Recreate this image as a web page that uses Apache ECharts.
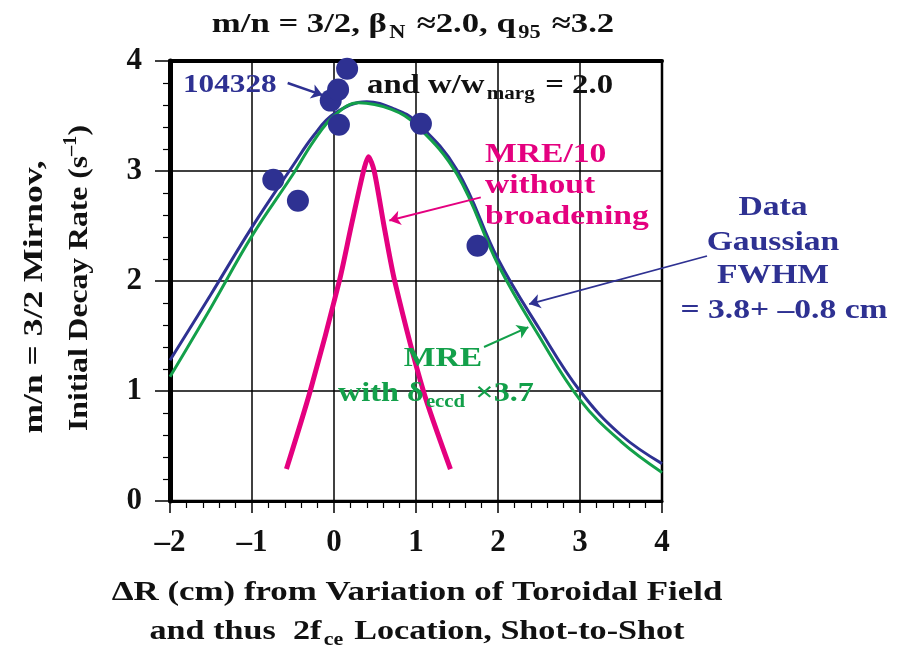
<!DOCTYPE html>
<html>
<head>
<meta charset="utf-8">
<script src="https://cdn.jsdelivr.net/npm/echarts@6/dist/echarts.min.js"></script>
<style>html,body{margin:0;padding:0;background:#fff;}#c{width:904px;height:645px;}</style>
</head>
<body>
<div id="c"></div>
<script>
// ---- data ----
const xTicks = [-2, -1, 0, 1, 2, 3, 4];
const xTickLabels = ['–2', '–1', '0', '1', '2', '3', '4'];
const yTicks = [0, 1, 2, 3, 4];
const yTickLabels = ['0', '1', '2', '3', '4'];

const dotX = [-0.74, -0.44, -0.04, 0.05, 0.16, 0.06, 1.06, 1.75, 4.06];
const dotY = [2.92, 2.73, 3.64, 3.74, 3.93, 3.42, 3.43, 2.32, 0.32];

const blueX = [-2, -1.5, -1, -0.5, -0.25, 0, 0.4, 0.75, 1, 1.5, 2, 2.5, 3, 3.5, 4];
const blueY = [1.28, 1.88, 2.49, 3.05, 3.32, 3.52, 3.63, 3.56, 3.45, 3.01, 2.2, 1.57, 1.0, 0.6, 0.34];

const greenX = [-2, -1.5, -1, -0.5, -0.25, 0, 0.3, 0.7, 1, 1.5, 2, 2.5, 3, 3.5, 4];
const greenY = [1.13, 1.76, 2.41, 2.97, 3.27, 3.5, 3.62, 3.56, 3.42, 2.97, 2.15, 1.5, 0.92, 0.54, 0.26];

const pinkX = [-0.58, -0.29, 0.065, 0.21, 0.36, 0.42, 0.49, 0.61, 0.74, 1.09, 1.42];
const pinkY = [0.29, 1.0, 2.0, 2.5, 3.0, 3.13, 3.0, 2.5, 2.0, 1.0, 0.29];

// ---- styling ----
const F = '"Liberation Serif", "Times New Roman", serif';
const NAVY = '#2e3192', GREEN = '#13a04a', PINK = '#e4007f', INK = '#111';
const SX = 1.2;

const zip = (xs, ys) => xs.map((x, i) => [x, ys[i]]);

function richStyle(color, size) {
  const s = size || 28;
  return {
    m: {fontFamily: F, fontWeight: 'bold', fontSize: s, fill: color, lineHeight: s + 3, verticalAlign: 'top'},
    s: {fontFamily: F, fontWeight: 'bold', fontSize: Math.round(s * 0.66), fill: color, lineHeight: 20, padding: [14, 2, 0, 2], verticalAlign: 'top'}
  };
}
function supStyle(color, size) {
  const s = size || 28;
  return {
    m: {fontFamily: F, fontWeight: 'bold', fontSize: s, fill: color, lineHeight: s + 3, verticalAlign: 'bottom'},
    p: {fontFamily: F, fontWeight: 'bold', fontSize: Math.round(s * 0.66), fill: color, lineHeight: 20, padding: [0, 0, 14, 0], verticalAlign: 'top'}
  };
}
function txt(x, y, text, color, opts) {
  opts = opts || {};
  return {
    type: 'text', x: x, y: y, z: 100,
    rotation: opts.rotation || 0,
    scaleX: opts.scaleX || SX,
    style: {
      text: text,
      rich: opts.sup ? supStyle(color, opts.size) : richStyle(color, opts.size),
      align: opts.align || 'center',
      verticalAlign: 'middle'
    }
  };
}

const arrowLine = (color, from, to, w) => ({
  silent: true,
  symbol: ['none', 'arrow'],
  symbolSize: 11,
  animation: false,
  label: {show: false},
  lineStyle: {color: color, width: w || 2, type: 'solid'},
  emphasis: {disabled: true},
  data: [[from, to]]
});

const chart = echarts.init(document.getElementById('c'), null, {renderer: 'canvas'});

const option = {
  backgroundColor: '#fff',
  animation: false,
  grid: {left: 170, right: 242, top: 61, bottom: 144, show: true, borderColor: '#000', borderWidth: 2.5, backgroundColor: 'transparent'},
  xAxis: [{
    type: 'value', min: -2, max: 4, interval: 1,
    axisLine: {show: true, onZero: false, lineStyle: {color: '#000', width: 3}},
    axisTick: {show: true, length: 12, lineStyle: {color: '#000', width: 1.5}},
    minorTick: {show: true, splitNumber: 5, length: 7, lineStyle: {color: '#000', width: 1.2}},
    splitLine: {show: true, lineStyle: {color: '#000', width: 1.5}},
    axisLabel: {
      margin: 26, color: INK, fontFamily: F, fontWeight: 'bold', fontSize: 31,
      formatter: v => xTickLabels[xTicks.indexOf(Math.round(v * 1000) / 1000)]
    }
  }, {
    type: 'value', min: -2, max: 4, position: 'top',
    axisLine: {show: true, onZero: false, lineStyle: {color: '#000', width: 4}},
    axisTick: {show: false}, axisLabel: {show: false}, splitLine: {show: false}
  }],
  yAxis: {
    type: 'value', min: 0, max: 4, interval: 1,
    axisLine: {show: true, onZero: false, lineStyle: {color: '#000', width: 5}},
    axisTick: {show: true, length: 15, lineStyle: {color: '#000', width: 1.5}},
    minorTick: {show: true, splitNumber: 5, length: 7, lineStyle: {color: '#000', width: 1.2}},
    splitLine: {show: true, lineStyle: {color: '#000', width: 1.5}},
    axisLabel: {
      margin: 28, color: INK, fontFamily: F, fontWeight: 'bold', fontSize: 31,
      formatter: v => yTickLabels[yTicks.indexOf(Math.round(v * 1000) / 1000)]
    }
  },
  series: [
    {
      name: 'Data Gaussian', type: 'line', data: zip(blueX, blueY), smooth: 0.4,
      showSymbol: false, lineStyle: {color: NAVY, width: 3}, z: 3,
      markLine: arrowLine(NAVY, {x: 707, y: 256}, {coord: [2.38, 1.79]}, 1.8)
    },
    {
      name: 'MRE', type: 'line', data: zip(greenX, greenY), smooth: 0.4,
      showSymbol: false, lineStyle: {color: GREEN, width: 3}, z: 4,
      markLine: arrowLine(GREEN, {coord: [1.83, 1.40]}, {coord: [2.37, 1.58]}, 2)
    },
    {
      name: 'MRE/10', type: 'line', data: zip(pinkX, pinkY), smooth: 0.25,
      showSymbol: false, lineStyle: {color: PINK, width: 5}, z: 5,
      markLine: arrowLine(PINK, {coord: [1.79, 2.76]}, {coord: [0.675, 2.55]}, 2)
    },
    {
      name: 'Data', type: 'scatter', data: zip(dotX, dotY), symbol: 'circle', symbolSize: 22,
      itemStyle: {color: NAVY, opacity: 1}, z: 6,
      markLine: arrowLine(NAVY, {coord: [-0.565, 3.80]}, {coord: [-0.14, 3.69]}, 2.5)
    }
  ],
  graphic: [
    txt(413, 26, '{m|m/n = 3/2, β}{s|N}{m| ≈2.0, q}{s|95}{m| ≈3.2}', INK, {scaleX: 1.24}),
    txt(183, 87, '{m|104328}', NAVY, {align: 'left', size: 26}),
    txt(367, 87, '{m|and w/w}{s|marg}{m| = 2.0}', INK, {align: 'left', scaleX: 1.17}),
    txt(485, 156, '{m|MRE/10}', PINK, {align: 'left'}),
    txt(485, 187, '{m|without}', PINK, {align: 'left'}),
    txt(485, 218, '{m|broadening}', PINK, {align: 'left'}),
    txt(773, 209, '{m|Data}', NAVY),
    txt(773, 244, '{m|Gaussian}', NAVY),
    txt(773, 277, '{m|FWHM}', NAVY),
    txt(784, 312, '{m|= 3.8+ –0.8 cm}', NAVY),
    txt(443, 360, '{m|MRE}', GREEN),
    txt(338, 395, '{m|with δ}{s|eccd}{m| ×3.7}', GREEN, {align: 'left', scaleX: 1.15}),
    txt(36, 297, '{m|m/n = 3/2 Mirnov,}', INK, {rotation: Math.PI / 2, scaleX: 1.27}),
    txt(78, 278, '{m|Initial Decay Rate (s}{p|–1}{m|)}', INK, {rotation: Math.PI / 2, sup: true, scaleX: 1.13}),
    txt(417, 594, '{m|ΔR (cm) from Variation of Toroidal Field}', INK, {scaleX: 1.245}),
    txt(417, 633, '{m|and thus  2f}{s|ce}{m| Location, Shot-to-Shot}', INK, {scaleX: 1.22})
  ]
};
chart.setOption(option);
</script>
</body>
</html>
